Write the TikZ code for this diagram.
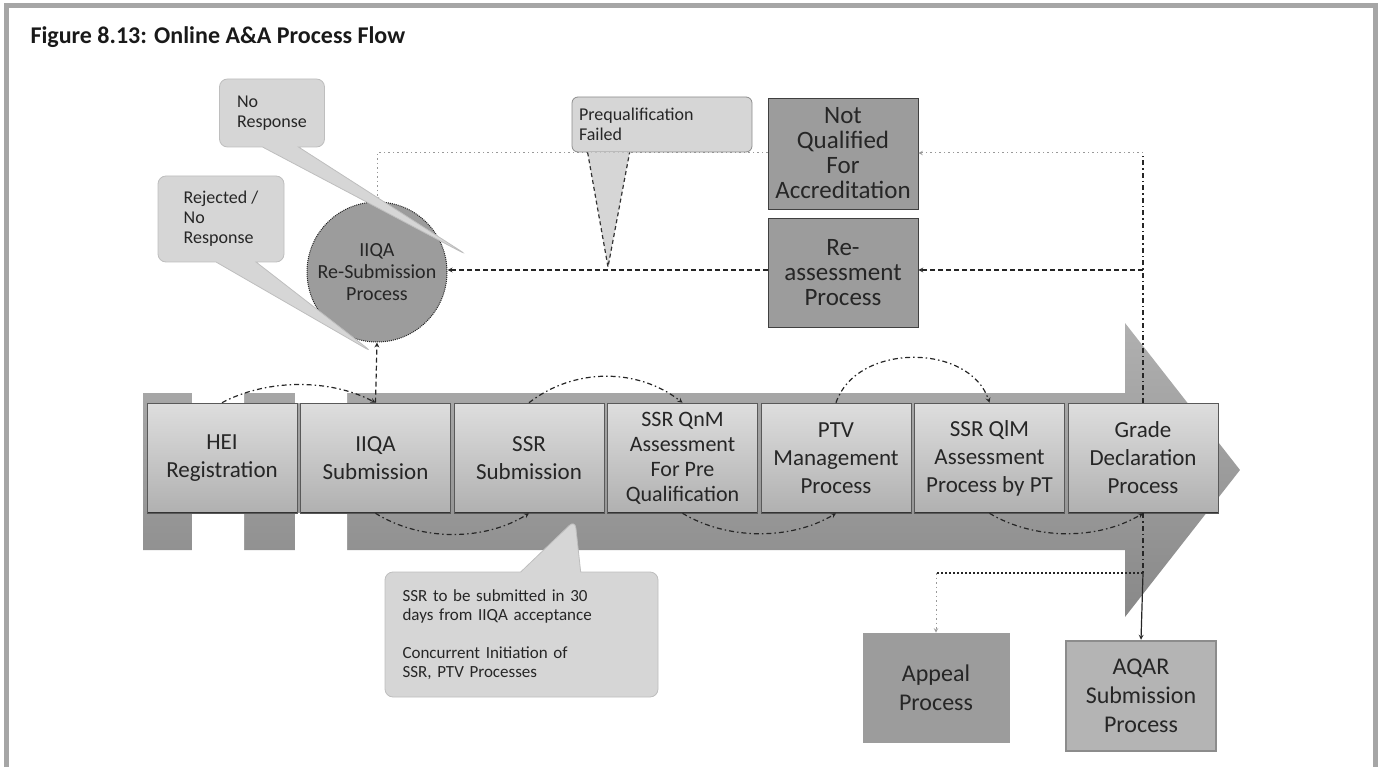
\documentclass[tikz,border=0pt]{standalone}
\usepackage{fontspec}
\setmainfont{Carlito}
\usepackage{tikz}
\usetikzlibrary{arrows,shapes.callouts}
\definecolor{framegray}{HTML}{A6A6A6}
\definecolor{notegray}{HTML}{D6D6D6}
\definecolor{noteedge}{HTML}{BEBEBE}
\definecolor{darkbox}{HTML}{9C9C9C}
\definecolor{lightbox}{HTML}{B4B4B4}
\definecolor{stagetop}{HTML}{DEDEDE}
\definecolor{stagebottom}{HTML}{B0B0B0}
\definecolor{shafttop}{HTML}{B0B0B0}
\definecolor{shaftbottom}{HTML}{888888}
\newcommand{\aatitlefont}{\fontsize{24}{28}\selectfont\bfseries}
\newcommand{\aastagefont}{\linespread{1}\fontsize{23}{28}\selectfont}
\newcommand{\aaboxfont}{\linespread{1}\fontsize{25}{25}\selectfont}
\newcommand{\aaloopfont}{\linespread{1}\fontsize{20}{22}\selectfont}
\newcommand{\aanotefont}{\linespread{1}\fontsize{18}{20}\selectfont}
\tikzset{
    aa/chart/.style={x=1pt, y=1pt, >=stealth, every node/.style={align=center, text=black!85}},
    aa/title/.style={font=\aatitlefont, text=black!90},
    aa/stage/.style={rectangle, draw=black!65, line width=0.6pt, top color=stagetop, bottom color=stagebottom, minimum width=150pt, minimum height=110pt, inner sep=2pt, font=\aastagefont,
        path picture={\draw[black!80, line width=2.6pt] (path picture bounding box.south west) -- (path picture bounding box.south east);}},
    aa/outcome/.style={rectangle, draw=black!75, line width=0.6pt, fill=darkbox, minimum width=150pt, inner sep=2pt, font=\aaboxfont},
    aa/loop/.style={circle, draw=black!85, densely dotted, line width=1pt, fill=darkbox, minimum size=140pt, inner sep=0pt, font=\aaloopfont},
    aa/note/.style={rectangle callout, rounded corners=8pt, fill=notegray, draw=noteedge, line width=0.8pt, align=left, font=\aanotefont},
    aa/link/.style={line width=1.2pt, draw=black!85, dash pattern=on 5pt off 3pt on 1.5pt off 3pt},
    aa/back/.style={line width=1.2pt, draw=black!85, dash pattern=on 5pt off 3pt},
    aa/faint/.style={line width=1pt, draw=black!40, dash pattern=on 1.5pt off 3pt},
    aa/tail/.style={fill=notegray, draw=black!80, line width=1.2pt, dash pattern=on 4pt off 3pt}
}
\begin{document}
\begin{tikzpicture}[aa/chart]
    \useasboundingbox (0,0) rectangle (1378,-767);
    \draw[framegray, line width=5pt] (6.5,-767) -- (6.5,-5.5) -- (1375.5,-5.5) -- (1375.5,-767);
    \node[aa/title, anchor=base west] (title) at (27,-44) {Figure 8.13: Online A\&A Process Flow};
    % block arrow behind the stages
    \shade[top color=shafttop, bottom color=shaftbottom] (143,-393) -- (1125,-393) -- (1125,-323) -- (1240,-470) -- (1125,-617) -- (1125,-550) -- (143,-550) -- cycle;
    \foreach \gap in {192,295}
        \fill[white] (\gap,-389) rectangle +(52,-14) (\gap,-513) rectangle +(52,-41);
    % stages
    \node[aa/stage] (hei) at (222,-458) {HEI\\Registration};
    \node[aa/stage] (iiqa) at (375.5,-458) {IIQA\\Submission};
    \node[aa/stage] (ssr) at (529,-458) {SSR\\Submission};
    \node[aa/stage, font=\linespread{1}\fontsize{22}{25}\selectfont] (qnm) at (682.5,-458) {SSR QnM\\Assessment\\For Pre\\Qualification};
    \node[aa/stage] (ptv) at (836,-458) {PTV\\Management\\Process};
    \node[aa/stage] (qlm) at (989.5,-458) {SSR QlM\\Assessment\\Process by PT};
    \node[aa/stage] (grade) at (1143,-458) {Grade\\Declaration\\Process};
    % side processes
    \node[aa/loop] (resub) at (377,-272) {IIQA\\Re-Submission\\Process};
    \node[aa/outcome, minimum height=111pt] (nq) at (843,-153.5) {Not\\Qualified\\For\\Accreditation};
    \node[aa/outcome, minimum height=109pt] (reassess) at (843,-272.5) {Re-\\assessment\\Process};
    \node[aa/outcome, draw=darkbox, minimum width=146pt, minimum height=109pt, font=\linespread{1}\fontsize{24}{29}\selectfont] (appeal) at (936,-687.5) {Appeal\\Process};
    \node[aa/outcome, fill=lightbox, draw=black!45, line width=2.5pt, minimum height=110pt, font=\linespread{1}\fontsize{24}{29}\selectfont] (aqar) at (1141,-696) {AQAR\\Submission\\Process};
    \coordinate (upper) at (1143,-153);
    \coordinate (middle) at (1143,-270);
    \coordinate (lower) at (1143,-573);
    \coordinate (pqtip) at (608,-267);
    % flow along the arrow
    \draw[aa/link,->] (hei.north) .. controls +(45,24) and +(-45,24) .. (iiqa.north);
    \draw[aa/link,->] (iiqa.south) .. controls +(45,-28) and +(-45,-28) .. (ssr.south);
    \draw[aa/link,->] (ssr.north) .. controls +(45,35) and +(-45,35) .. (qnm.north);
    \draw[aa/link,->] (qnm.south) .. controls +(45,-27) and +(-45,-27) .. (ptv.south);
    \draw[aa/link,->] (ptv.north) .. controls +(20,60) and +(-20,60) .. (qlm.north);
    \draw[aa/link,->] (qlm.south) .. controls +(45,-27) and +(-45,-27) .. (grade.south);
    \draw[aa/back,->] (iiqa.north) -- (resub.south);
    % outcomes of the grade
    \draw[aa/link] (grade.north) -- (upper);
    \draw[aa/faint,->] (upper) -- (upper -| nq.east);
    \draw[aa/back,->] (middle) -- (middle -| reassess.east);
    \draw[aa/faint,->] (nq.west |- upper) -- (resub.north |- upper) -- (resub.north);
    \draw[aa/back,->] (reassess.west |- middle) -- (resub.east |- middle);
    \draw[aa/link] (grade.south) -- (lower);
    \draw[line width=1.2pt, draw=black!85, ->] (lower) -- (aqar.north);
    \draw[aa/link, dash pattern=on 2pt off 2pt] (lower) -- (lower -| appeal.north);
    \draw[aa/faint,->] (lower -| appeal.north) -- (appeal.north);
    % notes
    \node[aa/note, minimum width=105pt, minimum height=68pt, callout absolute pointer={(467,-255)}, callout pointer width=36pt] (noresp) at (272,-113) {No\\Response};
    \node[aa/note, minimum width=126pt, minimum height=86pt, callout absolute pointer={(372,-352)}, callout pointer width=40pt] (rejected) at (221,-219) {Rejected /\\No\\Response};
    \node[aa/note, minimum width=273pt, minimum height=125pt, text width=238pt, callout absolute pointer={(575,-520)}, callout pointer width=60pt, font=\linespread{1}\fontsize{17}{19}\selectfont] (ssrnote) at (521.5,-634.5) {SSR to be submitted in 30\\days from IIQA acceptance\\[19pt]Concurrent Initiation of\\SSR, PTV Processes};
    \node[rectangle, rounded corners=6pt, fill=notegray, draw=black!45, line width=0.8pt, font=\aanotefont, align=left, text width=166pt, minimum width=180pt, minimum height=55pt] (pqf) at (662,-124.5) {Prequalification\\Failed};
    \filldraw[aa/tail] ([xshift=16pt]pqf.south west) -- (pqtip) -- ([xshift=58pt]pqf.south west);
\end{tikzpicture}
\end{document}
